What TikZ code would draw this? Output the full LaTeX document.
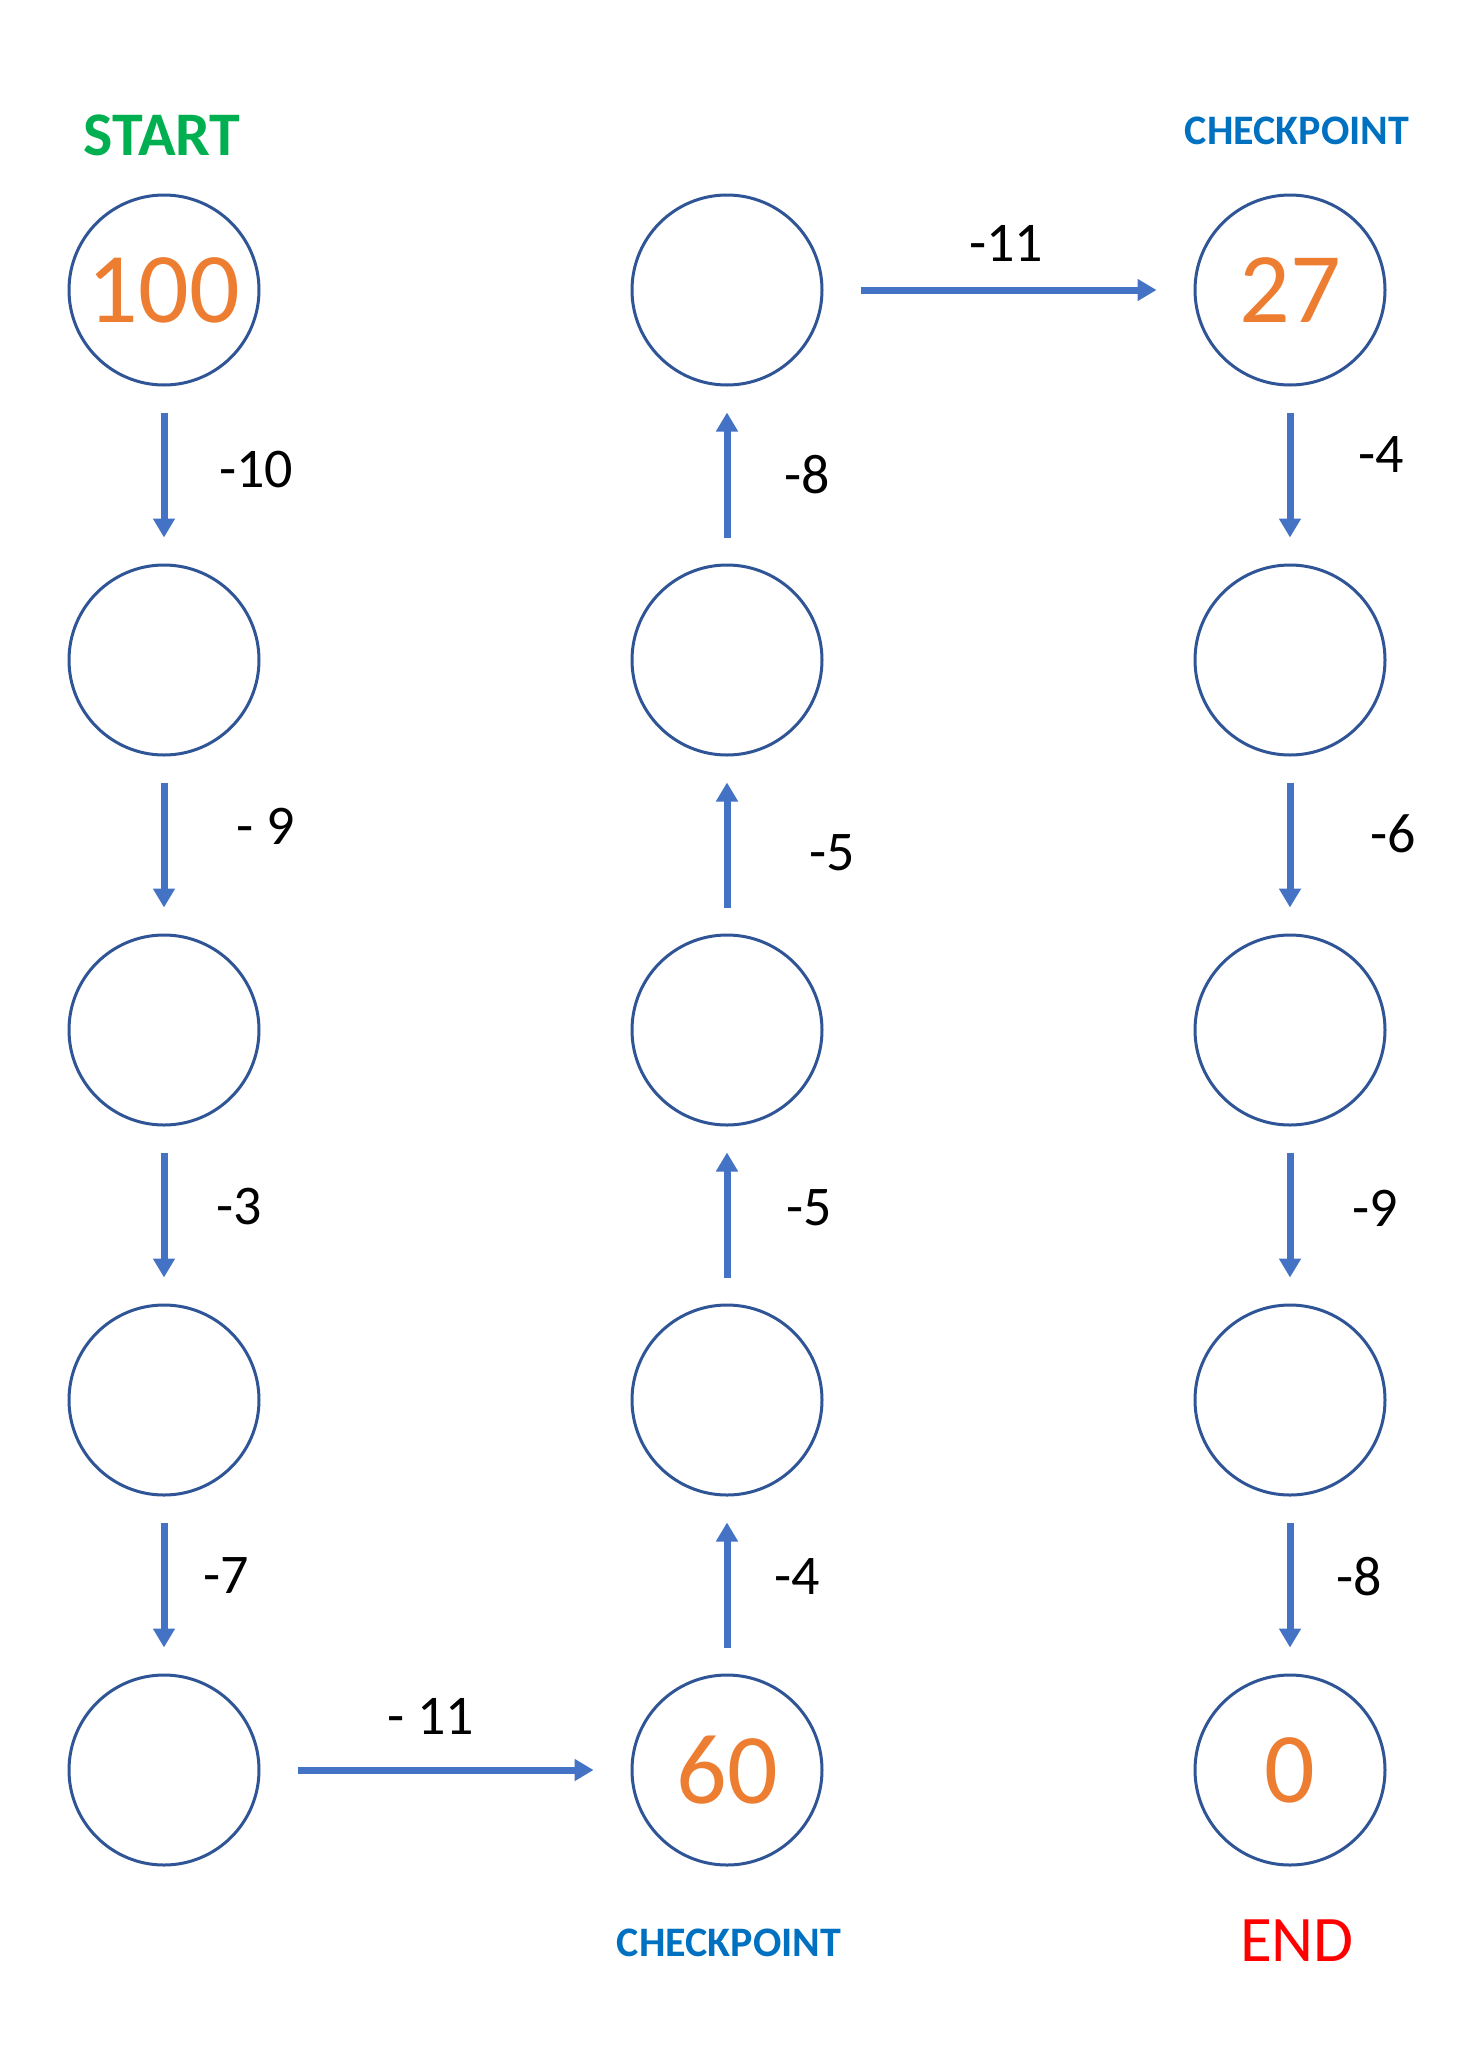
\documentclass[tikz,border=0pt]{standalone}
\usepackage{fontspec}
\setmainfont{Carlito}
\usetikzlibrary{arrows.meta}
\definecolor{ring}{HTML}{2F5597}
\definecolor{arrblue}{HTML}{4472C4}
\definecolor{numorange}{HTML}{ED7D31}
\definecolor{startgreen}{HTML}{00B050}
\definecolor{cpblue}{HTML}{0070C0}
\definecolor{endred}{HTML}{FF0000}
\begin{document}
\begin{tikzpicture}[x=1pt,y=-1pt,
  stop/.style={circle, draw=ring, line width=3pt, minimum size=190pt, inner sep=0pt,
    text=numorange, font=\fontsize{100}{100}\selectfont},
  arr/.style={draw=arrblue, line width=7pt, -{Triangle[width=21pt,length=19pt]}},
  varr/.style={arr, shorten <=26pt, shorten >=26pt},
  harr/.style={arr, shorten <=37pt, shorten >=37pt},
  lbl/.style={font=\fontsize{56}{56}\selectfont, inner sep=0pt, text=black},
  title/.style={inner sep=0pt}]
\fill[white] (0,0) rectangle (1464,2048);
\useasboundingbox (0,0) rectangle (1464,2048);

% column 1
\node[stop] (a1) at (164,290) {100};
\node[stop] (a2) at (164,660) {};
\node[stop] (a3) at (164,1030) {};
\node[stop] (a4) at (164,1400) {};
\node[stop] (a5) at (164,1770) {};
% column 2
\node[stop] (b1) at (727,290) {};
\node[stop] (b2) at (727,660) {};
\node[stop] (b3) at (727,1030) {};
\node[stop] (b4) at (727,1400) {};
\node[stop] (b5) at (727,1770) {60};
% column 3
\node[stop] (c1) at (1290,290) {27};
\node[stop] (c2) at (1290,660) {};
\node[stop] (c3) at (1290,1030) {};
\node[stop] (c4) at (1290,1400) {};
\node[stop] (c5) at (1290,1770) {0};

% titles
\node[title, text=startgreen, font=\bfseries\fontsize{62}{62}\selectfont] (tstart) at (162,135) {START};
\node[title, text=cpblue, font=\bfseries\fontsize{42}{42}\selectfont] (tcp1) at (1297,131) {CHECKPOINT};
\node[title, text=cpblue, font=\bfseries\fontsize{42}{42}\selectfont] (tcp2) at (729,1943) {CHECKPOINT};
\node[title, text=endred, font=\fontsize{65}{65}\selectfont] (tend) at (1297,1941) {END};

% arrows
\draw[varr] (a1) -- (a2);
\draw[varr] (a2) -- (a3);
\draw[varr] (a3) -- (a4);
\draw[varr] (a4) -- (a5);
\draw[harr] (a5) -- (b5);
\draw[varr] (b5) -- (b4);
\draw[varr] (b4) -- (b3);
\draw[varr] (b3) -- (b2);
\draw[varr] (b2) -- (b1);
\draw[harr] (b1) -- (c1);
\draw[varr] (c1) -- (c2);
\draw[varr] (c2) -- (c3);
\draw[varr] (c3) -- (c4);
\draw[varr] (c4) -- (c5);

% arrow labels
\node[lbl] (l1) at (256,470) {-10};
\node[lbl] (l2) at (266,826) {- 9};
\node[lbl] (l3) at (239,1207) {-3};
\node[lbl] (l4) at (226,1576) {-7};
\node[lbl] (l5) at (431,1716) {- 11};
\node[lbl] (l6) at (797,1577) {-4};
\node[lbl] (l7) at (809,1208) {-5};
\node[lbl] (l8) at (832,853) {-5};
\node[lbl] (l9) at (807,475) {-8};
\node[lbl] (l10) at (1006,243) {-11};
\node[lbl] (l11) at (1381,455) {-4};
\node[lbl] (l12) at (1393,834) {-6};
\node[lbl] (l13) at (1375,1208) {-9};
\node[lbl] (l14) at (1359,1577) {-8};
\end{tikzpicture}
\end{document}
